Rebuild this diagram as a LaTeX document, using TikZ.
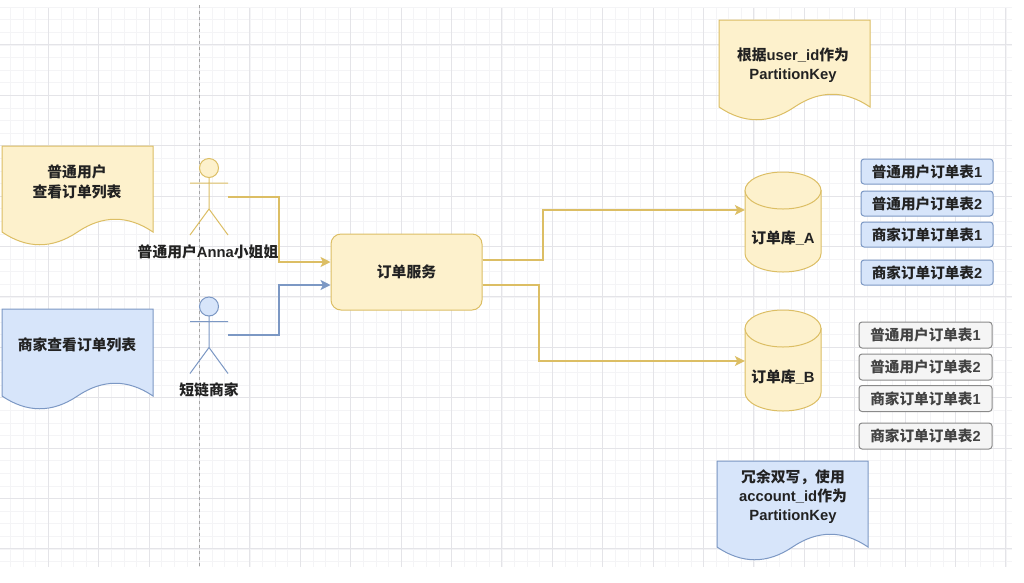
\documentclass[tikz,border=0pt]{standalone}
\usepackage{fontspec}
\setmainfont{Liberation Sans}
\newfontfamily\cjk{Noto Sans CJK SC}
\usetikzlibrary{arrows.meta}
\definecolor{yfill}{HTML}{FDF1CC}
\definecolor{ydraw}{HTML}{DCBE64}
\definecolor{bfill}{HTML}{D7E5FA}
\definecolor{bdraw}{HTML}{7C98C4}
\definecolor{gfill}{HTML}{F5F5F5}
\definecolor{gdraw}{HTML}{8A8A8A}
\definecolor{gridmin}{HTML}{F4F4F6}
\definecolor{gridmaj}{HTML}{E4E4E8}
\definecolor{ink}{HTML}{222222}
\newcommand{\zh}[1]{{\cjk\bfseries #1}}
\newcommand{\docshape}[6]{% x1, x2, ytop, yend, fill, draw
  \path[fill=#5,draw=#6,line width=1pt,line join=miter]
    (#1,#3) -- (#2,#3) -- (#2,#4)
    .. controls ({#2-(#2-#1)*0.166},{#4-17}) and ({#2-(#2-#1)*0.333},{#4-17}) .. ({(#1+#2)/2},#4)
    .. controls ({#1+(#2-#1)*0.333},{#4+17}) and ({#1+(#2-#1)*0.166},{#4+17}) .. (#1,#4) -- cycle;
}
\newcommand{\actor}[3]{% cx, ytop, style
  \draw[#3] (#1,#2+19) -- (#1,#2+51) (#1-19,#2+25) -- (#1+19,#2+25)
    (#1-19,#2+77) -- (#1,#2+51) -- (#1+19,#2+77);
}
\newcommand{\dbshape}[2]{% cy of top ellipse, y where body curve starts
  \path[fill=yfill,draw=ydraw,line width=1pt] (745,#1) -- (745,#2)
    .. controls (745,#2+10.2) and (762,#2+18.5) .. (783,#2+18.5)
    .. controls (804,#2+18.5) and (821,#2+10.2) .. (821,#2) -- (821,#1) -- cycle;
  \path[fill=yfill,draw=ydraw,line width=1pt] (783,#1) ellipse [x radius=38,y radius=18.5];
}
\tikzset{
  lbl/.style={font=\bfseries\fontsize{14.8}{19}\selectfont,text=ink,align=center,inner sep=0pt},
  svcbox/.style={draw=ydraw,fill=yfill,line width=1pt,rounded corners=10pt,minimum width=151pt,minimum height=76pt,inner sep=0pt,font=\bfseries\fontsize{14.8}{19}\selectfont,text=ink},
  dbanchor/.style={minimum width=76pt,minimum height=100pt,inner sep=0pt},
  tblb/.style={draw=bdraw,fill=bfill,line width=1pt,rounded corners=3pt,minimum width=132pt,minimum height=25pt,inner sep=0pt,font=\bfseries\fontsize{14.6}{18}\selectfont,text=ink},
  tblg/.style={draw=gdraw,fill=gfill,line width=1pt,rounded corners=3pt,minimum width=133pt,minimum height=26pt,inner sep=0pt,font=\bfseries\fontsize{14.6}{18}\selectfont,text=ink!85},
  conny/.style={draw=ydraw,line width=1.3pt,-{Stealth[length=10pt,width=10pt,inset=2.5pt]}},
  connb/.style={draw=bdraw,line width=1.5pt,-{Stealth[length=10pt,width=10pt,inset=2.5pt]}},
  acty/.style={draw=ydraw,fill=yfill,line width=1pt},
  actb/.style={draw=bdraw,fill=bfill,line width=1pt}
}
\begin{document}
\begin{tikzpicture}[x=1pt,y=-1pt]
\useasboundingbox (0,0) rectangle (1024,582);
\fill[white] (0,0) rectangle (1024,582);
% grid
\foreach \i in {0,...,80} {\pgfmathsetmacro{\gx}{-2.2+12.6*\i}\draw[gridmin,line width=.6pt] (\gx,8) -- (\gx,567);}
\foreach \i in {0,...,44} {\pgfmathsetmacro{\gy}{7+12.6*\i}\draw[gridmin,line width=.6pt] (0,\gy) -- (1012,\gy);}
\foreach \i in {0,...,20} {\pgfmathsetmacro{\gx}{-2.2+50.4*\i}\draw[gridmaj,line width=.8pt] (\gx,8) -- (\gx,567);}
\foreach \i in {0,...,10} {\pgfmathsetmacro{\gy}{44.8+50.4*\i}\draw[gridmaj,line width=.8pt] (0,\gy) -- (1012,\gy);}
\draw[gray!70,dashed,line width=.7pt] (199,5) -- (199,567);
% documents
\docshape{2}{153}{146}{232}{yfill}{ydraw}
\docshape{2}{153}{309}{396}{bfill}{bdraw}
\docshape{719}{870}{20}{107}{yfill}{ydraw}
\docshape{717}{868}{461}{547}{bfill}{bdraw}
\node[lbl] (t1) at (77,182) {\zh{普通用户}\\[1pt]\zh{查看订单列表}};
\node[lbl] (t2) at (77,345) {\zh{商家查看订单列表}};
\node[lbl] (t3) at (793,65.5) {\zh{根据}user\_id\zh{作为}\\PartitionKey};
\node[lbl] (t4) at (793,497) {\zh{冗余双写，使用}\\account\_id\zh{作为}\\PartitionKey};
% actors
\node[circle,acty,minimum size=19pt,inner sep=0pt] (ua) at (209,168) {};
\actor{209}{158}{draw=ydraw,line width=1pt}
\node[circle,actb,minimum size=19pt,inner sep=0pt] (ma) at (209,306.5) {};
\actor{209}{296.5}{draw=bdraw,line width=1pt}
\node[lbl] (ulbl) at (208,252) {\zh{普通用户}Anna\zh{小姐姐}};
\node[lbl] (mlbl) at (209,390) {\zh{短链商家}};
% service
\node[svcbox] (svc) at (406.5,272) {\zh{订单服务}};
% databases
\dbshape{190.5}{253.5}
\node[dbanchor] (dba) at (783,222) {};
\node[lbl] at (783,238) (dbal) {\zh{订单库}\_A};
\dbshape{328.5}{392.5}
\node[dbanchor] (dbb) at (783,360.5) {};
\node[lbl] at (783,377) (dbbl) {\zh{订单库}\_B};
% tables
\node[tblb] (a1) at (927,171.5) {\zh{普通用户订单表}1};
\node[tblb] (a2) at (927,203.5) {\zh{普通用户订单表}2};
\node[tblb] (a3) at (927,234.5) {\zh{商家订单订单表}1};
\node[tblb] (a4) at (927,272.5) {\zh{商家订单订单表}2};
\node[tblg] (b1) at (925.5,335) {\zh{普通用户订单表}1};
\node[tblg] (b2) at (925.5,367) {\zh{普通用户订单表}2};
\node[tblg] (b3) at (925.5,398.5) {\zh{商家订单订单表}1};
\node[tblg] (b4) at (925.5,436) {\zh{商家订单订单表}2};
% connector anchors
\coordinate (uo) at (228,197);
\coordinate (mo) at (228,335);
\coordinate (ui) at (svc.west |- 0,262);
\coordinate (mi) at (svc.west |- 0,285);
\coordinate (so1) at (svc.east |- 0,260);
\coordinate (so2) at (svc.east |- 0,285);
\coordinate (ai) at (dba.west |- 0,210);
\coordinate (bi) at (dbb.west |- 0,361);
\draw[conny] (uo) -- (279,197) -- (279,262) -- (ui);
\draw[connb] (mo) -- (279,335) -- (279,285) -- (mi);
\draw[conny] (so1) -- (543,260) -- (543,210) -- (ai);
\draw[conny] (so2) -- (539,285) -- (539,361) -- (bi);
\end{tikzpicture}
\end{document}
